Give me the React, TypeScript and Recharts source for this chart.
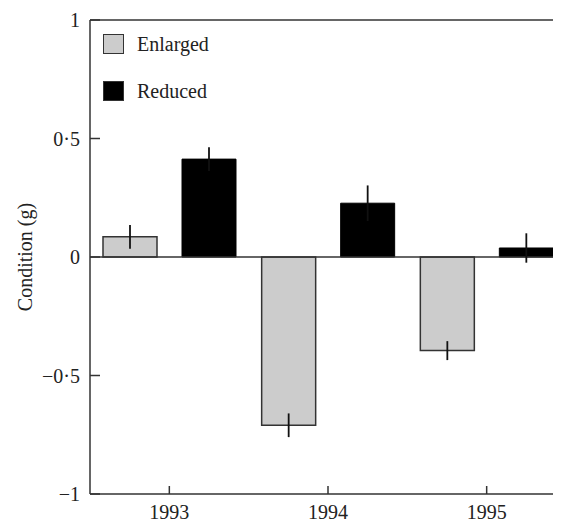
import React from 'react';
import { BarChart, Bar, XAxis, YAxis, ErrorBar, ReferenceLine, Legend } from 'recharts';

const years = ['1993', '1994', '1995'];
const enlarged = [0.085, -0.71, -0.395];
const enlargedErr = [0.05, 0.05, 0.04];
const reduced = [0.413, 0.227, 0.038];
const reducedErr = [0.05, 0.075, 0.062];
const yTicks = [-1, -0.5, 0, 0.5, 1];

const data = years.map((year, i) => ({
  year,
  enlarged: enlarged[i],
  enlargedErr: enlargedErr[i],
  reduced: reduced[i],
  reducedErr: reducedErr[i],
}));

const FONT = '"Liberation Serif", "Times New Roman", serif';
const AXIS = '#333';

const fmt = (v: number) => {
  if (v === 0) return '0';
  const s = String(Math.abs(v)).replace('.', '\u00b7');
  return (v < 0 ? '\u2212' : '') + s;
};

const LegendContent = (props: any) => {
  const payload = props.payload || [];
  return (
    <div style={{ fontFamily: FONT, fontSize: 20, color: '#222' }}>
      {payload.map((entry: any, i: number) => (
        <div
          key={i}
          style={{ display: 'flex', alignItems: 'center', height: 20, marginBottom: i === 0 ? 27 : 0 }}
        >
          <div
            style={{
              width: 21,
              height: 20,
              boxSizing: 'border-box',
              background: entry.color,
              border: `1.5px solid ${AXIS}`,
              marginRight: 13,
            }}
          />
          <span>{entry.value}</span>
        </div>
      ))}
    </div>
  );
};

const YLabel = (props: any) => {
  const vb = props.viewBox || {};
  const cy = (vb.y || 0) + (vb.height || 0) / 2;
  return (
    <text
      x={24}
      y={cy}
      transform={`rotate(-90, 24, ${cy})`}
      textAnchor="middle"
      fontFamily={FONT}
      fontSize={20}
      fill="#222"
    >
      Condition (g)
    </text>
  );
};

export default function App() {
  return (
    <div style={{ width: 553, height: 514, overflow: 'hidden' }}>
      <BarChart
        width={558}
        height={514}
        data={data}
        margin={{ top: 12, right: 0, bottom: 0, left: 0 }}
        barSize={54}
        barGap={25}
      >
        <XAxis
          dataKey="year"
          height={28}
          axisLine={{ stroke: AXIS, strokeWidth: 1.5 }}
          tickLine={{ stroke: AXIS, strokeWidth: 1.5 }}
          tickSize={-8}
          tickMargin={19}
          tick={{ fontFamily: FONT, fontSize: 20, fill: '#222' }}
        />
        <YAxis
          type="number"
          domain={[-1, 1]}
          ticks={yTicks}
          width={82}
          axisLine={{ stroke: AXIS, strokeWidth: 1.5 }}
          tickLine={{ stroke: AXIS, strokeWidth: 1.5 }}
          tickSize={-10}
          tickMargin={20}
          tickFormatter={fmt}
          tick={{ fontFamily: FONT, fontSize: 20, fill: '#222' }}
          label={<YLabel />}
        />
        <ReferenceLine y={1} stroke={AXIS} strokeWidth={1.5} />
        <ReferenceLine y={0} stroke={AXIS} strokeWidth={1.5} />
        <Legend
          content={<LegendContent />}
          wrapperStyle={{ left: 95, top: 26, width: 'auto' }}
          layout="vertical"
          verticalAlign="middle"
          align="center"
        />
        <Bar dataKey="enlarged" name="Enlarged" fill="#cccccc" stroke={AXIS} strokeWidth={1.5} isAnimationActive={false}>
          <ErrorBar dataKey="enlargedErr" width={0} stroke="#111" strokeWidth={1.8} />
        </Bar>
        <Bar dataKey="reduced" name="Reduced" fill="#000000" stroke="#000" strokeWidth={1} isAnimationActive={false}>
          <ErrorBar dataKey="reducedErr" width={0} stroke="#111" strokeWidth={1.8} />
        </Bar>
      </BarChart>
    </div>
  );
}
